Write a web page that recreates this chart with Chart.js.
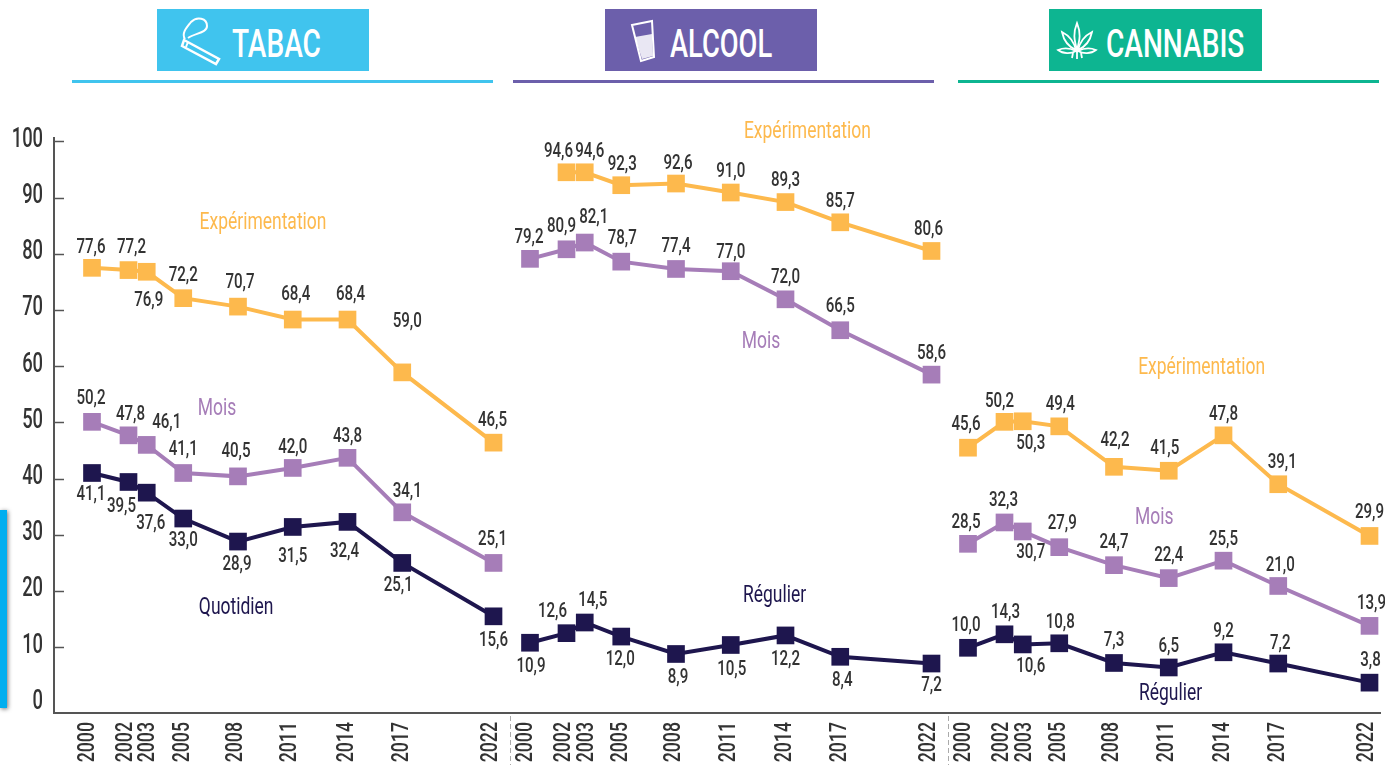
<!DOCTYPE html>
<html lang="fr">
<head>
<meta charset="utf-8">
<title>Tabac, alcool, cannabis</title>
<script src="https://cdn.jsdelivr.net/npm/chart.js@4/dist/chart.umd.min.js"></script>
<style>
  body { margin: 0; background: #fff; width: 1385px; height: 765px; overflow: hidden; position: relative; }
  canvas { position: absolute; left: 0; top: 0; }
  .box { position: absolute; top: 9px; height: 62px; width: 212px; }
  .box span { position: absolute; top: 15px; color: #fff; font: 500 39px/40px Roboto, sans-serif; transform-origin: left center; white-space: nowrap; }
  .box svg { position: absolute; top: 0; left: 0; }
  .rule { position: absolute; top: 80px; height: 3px; width: 421px; }
  .edge { position: absolute; left: 0; top: 510px; width: 7px; height: 198px; background: #00aeef; box-shadow: 1px 1px 4px rgba(0,0,0,.55); }
</style>
</head>
<body>
<canvas id="chart" width="1385" height="765"></canvas>

<div class="box" style="left:157px;background:#40c4ee">
  <svg width="212" height="62" fill="none" stroke="#fff" stroke-width="2">
    <path d="M28 30 C24 24 30 18 34 13 C40 7 50 9 50 17 C50 24 38 24 31 29"/>
    <path d="M27 31 L62 50 L59 55 L25 37 Z" stroke-width="2.5"/>
    <path d="M31 33 L29 38"/>
  </svg>
  <span style="left:75px;transform:scaleX(.72)">TABAC</span>
</div>
<div class="rule" style="left:72px;background:#40c4ee"></div>

<div class="box" style="left:605px;background:#6c5fab">
  <svg width="212" height="62" fill="none" stroke="#fff" stroke-width="2">
    <path d="M27 16 L47 12 L49 48 L36 52 Z"/>
    <path d="M30 28 L47 25 L48 47 L37 50 Z" fill="#fff" fill-opacity=".85" stroke="none"/>
  </svg>
  <span style="left:65px;transform:scaleX(.70)">ALCOOL</span>
</div>
<div class="rule" style="left:513px;background:#6c5fab"></div>

<div class="box" style="left:1049px;background:#0db591;width:213px">
  <svg width="213" height="62" fill="none" stroke="#fff" stroke-width="1.8">
    <path d="M28 14 C24 24 25 30 28 41 C31 30 32 24 28 14 Z"/>
    <path d="M13 23 C15 33 20 38 27 41 C25 33 21 27 13 23 Z"/>
    <path d="M43 23 C41 33 36 38 29 41 C31 33 35 27 43 23 Z"/>
    <path d="M9 41 C14 45 22 45 27 42 C21 39 14 39 9 41 Z"/>
    <path d="M47 41 C42 45 34 45 29 42 C35 39 42 39 47 41 Z"/>
    <path d="M28 42 L28 50 M24 44 L23 49 M32 44 L33 49"/>
  </svg>
  <span style="left:57px;transform:scaleX(.72)">CANNABIS</span>
</div>
<div class="rule" style="left:958px;background:#0db591"></div>

<div class="edge"></div>

<script>
// survey years, common to the three panels
const years = [2000, 2002, 2003, 2005, 2008, 2011, 2014, 2017, 2022];
const yTicks = [0, 10, 20, 30, 40, 50, 60, 70, 80, 90, 100];

const tabacExp = [77.6, 77.2, 76.9, 72.2, 70.7, 68.4, 68.4, 59.0, 46.5];
const tabacMois = [50.2, 47.8, 46.1, 41.1, 40.5, 42.0, 43.8, 34.1, 25.1];
const tabacQuot = [41.1, 39.5, 37.6, 33.0, 28.9, 31.5, 32.4, 25.1, 15.6];

const alcoolExp = [null, 94.6, 94.6, 92.3, 92.6, 91.0, 89.3, 85.7, 80.6];
const alcoolMois = [79.2, 80.9, 82.1, 78.7, 77.4, 77.0, 72.0, 66.5, 58.6];
const alcoolReg = [10.9, 12.6, 14.5, 12.0, 8.9, 10.5, 12.2, 8.4, 7.2];

const cannabisExp = [45.6, 50.2, 50.3, 49.4, 42.2, 41.5, 47.8, 39.1, 29.9];
const cannabisMois = [28.5, 32.3, 30.7, 27.9, 24.7, 22.4, 25.5, 21.0, 13.9];
// the 2002 square sits near 12,4 in the picture although it is printed 14,3
const cannabisReg = [10.0, 12.4, 10.6, 10.8, 7.3, 6.5, 9.2, 7.2, 3.8];
const cannabisRegPrinted = [10.0, 14.3, 10.6, 10.8, 7.3, 6.5, 9.2, 7.2, 3.8];

// panels share one x scale, each one shifted by 24 years
const panelShift = { tabac: 0, alcool: 24, cannabis: 48 };
const separators = [22.9, 46.9];

const EXP = '#fdb94d', MOIS = '#a67db8', DARK = '#1e164e';

// label offsets from the square, in px [dx, dy]
const offTabacExp = [[-1,-20],[3,-22],[2,29],[0,-22],[2,-24],[3,-25],[3,-25],[5,-51],[-1,-22]];
const offTabacMois = [[-1,-23],[2,-21],[20,-22],[0,-23],[-2,-25],[0,-20],[0,-21],[5,-21],[-1,-23]];
const offTabacQuot = [[-1,22],[-7,25],[4,31],[0,22],[-1,23],[0,30],[-3,30],[-4,23],[0,24]];
const offAlcoolExp = [null,[-8,-21],[5,-21],[1,-20],[2,-20],[0,-21],[0,-21],[0,-21],[-3,-21]];
const offAlcoolMois = [[-1,-21],[-5,-23],[9,-25],[1,-23],[0,-22],[0,-18],[0,-22],[0,-23],[0,-21]];
const offAlcoolReg = [[1,24],[-14,-21],[8,-22],[-1,23],[2,24],[1,25],[0,24],[2,24],[0,22]];
const offCannabisExp = [[-2,-23],[-5,-20],[8,22],[1,-22],[1,-26],[-4,-22],[0,-21],[4,-21],[0,-23]];
const offCannabisMois = [[-2,-21],[-1,-22],[8,21],[3,-23],[0,-22],[0,-22],[0,-21],[2,-20],[2,-22]];
const offCannabisReg = [[-2,-22],[1,-22],[8,22],[1,-21],[0,-22],[0,-21],[0,-21],[2,-20],[1,-22]];
// year labels sit slightly off their squares, 2002/2003 spread apart
const yearNudge = [-4, -2.5, 2, 0, -2, -2, 0, 0, -2.5];

function serie(shift, values, color, offsets, printed) {
  return {
    data: years.map((y, i) => ({ x: y - 2000 + shift, y: values[i] })),
    borderColor: color,
    backgroundColor: color,
    borderWidth: 4,
    pointStyle: 'rect',
    pointRadius: 12.5,
    pointBorderWidth: 0,
    tension: 0,
    clip: false,
    spanGaps: false,
    offsets: offsets,
    printed: printed || values
  };
}

const datasets = [
  serie(panelShift.tabac, tabacExp, EXP, offTabacExp),
  serie(panelShift.tabac, tabacMois, MOIS, offTabacMois),
  serie(panelShift.tabac, tabacQuot, DARK, offTabacQuot),
  serie(panelShift.alcool, alcoolExp, EXP, offAlcoolExp),
  serie(panelShift.alcool, alcoolMois, MOIS, offAlcoolMois),
  serie(panelShift.alcool, alcoolReg, DARK, offAlcoolReg),
  serie(panelShift.cannabis, cannabisExp, EXP, offCannabisExp),
  serie(panelShift.cannabis, cannabisMois, MOIS, offCannabisMois),
  serie(panelShift.cannabis, cannabisReg, DARK, offCannabisReg, cannabisRegPrinted)
];

// series names, placed in data units
const seriesNames = [
  ['Expérimentation', 9.37, 85.6, EXP],
  ['Mois', 6.85, 52.5, MOIS],
  ['Quotidien', 7.9, 17.0, DARK],
  ['Expérimentation', 39.2, 101.7, EXP],
  ['Mois', 36.66, 64.3, MOIS],
  ['Régulier', 37.4, 19.1, DARK],
  ['Expérimentation', 60.8, 59.8, EXP],
  ['Mois', 58.2, 33.0, MOIS],
  ['Régulier', 59.1, 1.7, DARK]
];

const FONT = 'Roboto, sans-serif';

// no narrow face is installed, so condensed text is squeezed horizontally
function narrowText(ctx, text, x, y, squeeze, angle) {
  ctx.save();
  ctx.translate(x, y);
  if (angle) ctx.rotate(angle);
  ctx.scale(squeeze, 1);
  ctx.fillText(text, 0, 0);
  ctx.restore();
}

const textPlugin = {
  id: 'texts',
  afterDatasetsDraw(chart) {
    const ctx = chart.ctx;
    const sx = chart.scales.x, sy = chart.scales.y;
    ctx.save();
    ctx.textBaseline = 'middle';

    // axis tick labels, at the positions the scales give
    ctx.fillStyle = '#333';
    ctx.font = '500 27px ' + FONT;
    ctx.textAlign = 'right';
    sy.ticks.forEach(t => narrowText(ctx, t.label, 43, sy.getPixelForValue(t.value) - 2, 0.68));
    ctx.font = '500 23px ' + FONT;
    sx.ticks.forEach((t, i) => {
      const x = sx.getPixelForValue(t.value) + yearNudge[i % years.length];
      narrowText(ctx, t.label, x, 722, 0.77, -Math.PI / 2);
    });

    // value labels
    ctx.textAlign = 'center';
    ctx.font = '500 21px ' + FONT;
    chart.data.datasets.forEach((ds, d) => {
      chart.getDatasetMeta(d).data.forEach((pt, i) => {
        if (ds.printed[i] === null) return;
        const off = ds.offsets[i];
        narrowText(ctx, ds.printed[i].toFixed(1).replace('.', ','), pt.x + off[0], pt.y + off[1], 0.72);
      });
    });

    // series names
    ctx.font = '23px ' + FONT;
    seriesNames.forEach(n => {
      ctx.fillStyle = n[3];
      narrowText(ctx, n[0], sx.getPixelForValue(n[1]), sy.getPixelForValue(n[2]), 0.76);
    });

    // dashed separators under the axis, between panels
    ctx.strokeStyle = '#aaa';
    ctx.lineWidth = 1;
    ctx.setLineDash([5, 3]);
    separators.forEach(s => {
      const x = Math.round(sx.getPixelForValue(s)) + 0.5;
      ctx.beginPath();
      ctx.moveTo(x, chart.chartArea.bottom + 3);
      ctx.lineTo(x, 765);
      ctx.stroke();
    });
    ctx.restore();
  }
};

new Chart(document.getElementById('chart'), {
  type: 'line',
  data: { datasets: datasets },
  plugins: [textPlugin],
  options: {
    responsive: false,
    animation: false,
    layout: { autoPadding: false, padding: { top: 138, right: 5, left: 0, bottom: 0 } },
    plugins: { legend: { display: false }, tooltip: { enabled: false } },
    scales: {
      x: {
        type: 'linear',
        min: -2.082,
        max: 70.575,
        afterFit: s => { s.height = 52; s.paddingLeft = 0; s.paddingRight = 0; },
        afterBuildTicks: s => {
          const ticks = [];
          Object.values(panelShift).forEach(shift => years.forEach(y => ticks.push({ value: y - 2000 + shift })));
          s.ticks = ticks;
        },
        grid: { display: false },
        border: { display: true, color: '#555', width: 2 },
        ticks: { display: false, autoSkip: false, callback: v => 2000 + (v % 24) }
      },
      y: {
        min: -1.6,
        max: 100.7,
        afterFit: s => { s.width = 54; s.paddingTop = 0; s.paddingBottom = 0; },
        afterBuildTicks: s => { s.ticks = yTicks.map(v => ({ value: v })); },
        grid: {
          drawOnChartArea: false,
          tickLength: -10,
          tickWidth: 1.5,
          tickColor: c => c.tick && c.tick.value === 0 ? 'rgba(0,0,0,0)' : '#555'
        },
        border: { display: true, color: '#555', width: 2 },
        ticks: { display: false, callback: v => v }
      }
    }
  }
});
</script>
</body>
</html>
